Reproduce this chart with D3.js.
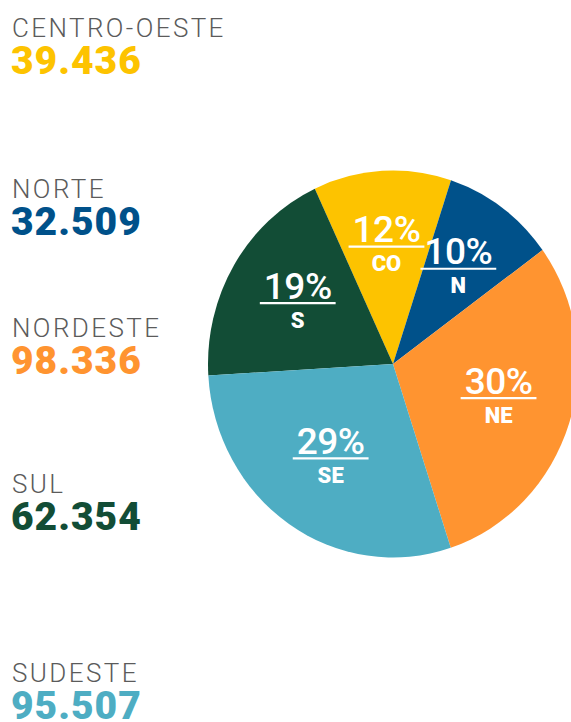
<!DOCTYPE html>
<html>
<head>
<meta charset="utf-8">
<script src="https://cdn.jsdelivr.net/npm/d3@7"></script>
<style>
  body { margin: 0; background: #fff; }
  svg { display: block; }
</style>
</head>
<body>
<div id="chart"></div>
<script>
const width = 571;
const height = 722;

// data, in legend order
const regions = ["CENTRO-OESTE", "NORTE", "NORDESTE", "SUL", "SUDESTE"];
const abbrs = ["CO", "N", "NE", "S", "SE"];
const values = [39436, 32509, 98336, 62354, 95507];
const colors = ["#fdc300", "#00518a", "#ff9430", "#124d36", "#4eadc3"];
// clockwise order of slices in the pie
const pieOrder = ["CO", "N", "NE", "SE", "S"];

// layout
const legendBaselines = [37, 198, 337, 493, 682];
const cx = 393, cy = 364;
const ry = 193.5, rx = 185;
const labelRadius = 116;
const startAngle = -25 * Math.PI / 180;

const locale = d3.formatLocale({ decimal: ",", thousands: ".", grouping: [3], currency: ["R$", ""] });
const fmtNum = locale.format(",d");
const fmtPct = d3.format(".0%");

const data = regions.map((r, i) => ({ region: r, abbr: abbrs[i], value: values[i], color: colors[i] }));
const total = d3.sum(values);

const svg = d3.select("#chart")
    .append("svg")
    .attr("width", width)
    .attr("height", height);

// legend on the left
const legend = svg.append("g");

legend.selectAll("text.name")
    .data(data)
    .enter()
    .append("text")
    .attr("class", "name")
    .attr("x", 12)
    .attr("y", (d, i) => legendBaselines[i])
    .attr("font-family", "Roboto, 'DejaVu Sans', sans-serif")
    .attr("font-weight", 300)
    .attr("font-size", "26px")
    .attr("letter-spacing", "2.4px")
    .attr("fill", "#5b5b5b")
    .text(d => d.region);

legend.selectAll("text.value")
    .data(data)
    .enter()
    .append("text")
    .attr("class", "value")
    .attr("x", 11)
    .attr("y", (d, i) => legendBaselines[i] + 37)
    .attr("font-family", "Roboto, 'DejaVu Sans', sans-serif")
    .attr("font-weight", 900)
    .attr("font-size", "39px")
    .attr("letter-spacing", "1px")
    .attr("fill", d => d.color)
    .text(d => fmtNum(d.value));

// pie
const pieData = d3.pie()
    .sort((a, b) => pieOrder.indexOf(a.abbr) - pieOrder.indexOf(b.abbr))
    .value(d => d.value)
    .startAngle(startAngle)
    .endAngle(startAngle + 2 * Math.PI)(data);

const arc = d3.arc().innerRadius(0).outerRadius(ry);
const labelArc = d3.arc().innerRadius(labelRadius).outerRadius(labelRadius);

const pieG = svg.append("g")
    .attr("transform", `translate(${cx},${cy})`);

pieG.append("g")
    .attr("transform", `scale(${rx / ry},1)`)
    .selectAll("path")
    .data(pieData)
    .enter()
    .append("path")
    .attr("d", arc)
    .attr("fill", d => d.data.color);

const labels = pieG.selectAll("g.label")
    .data(pieData)
    .enter()
    .append("g")
    .attr("class", "label")
    .attr("transform", d => {
        const [x, y] = labelArc.centroid(d);
        return `translate(${x * rx / ry},${y})`;
    });

labels.append("text")
    .attr("class", "pct")
    .attr("text-anchor", "middle")
    .attr("y", -6)
    .attr("font-family", "Roboto, 'DejaVu Sans', sans-serif")
    .attr("font-weight", 500)
    .attr("font-size", "37px")
    .attr("letter-spacing", "-0.5px")
    .attr("fill", "#fff")
    .text(d => fmtPct(d.data.value / total));

labels.each(function() {
    const g = d3.select(this);
    const w = g.select("text.pct").node().getComputedTextLength();
    g.append("line")
        .attr("x1", -w / 2 - 4)
        .attr("x2", w / 2 + 4)
        .attr("y1", -1.5)
        .attr("y2", -1.5)
        .attr("stroke", "#fff")
        .attr("stroke-width", 2.2);
});

labels.append("text")
    .attr("text-anchor", "middle")
    .attr("y", 23)
    .attr("font-family", "Roboto, 'DejaVu Sans', sans-serif")
    .attr("font-weight", 900)
    .attr("font-size", "22px")
    .attr("fill", "#fff")
    .text(d => d.data.abbr);
</script>
</body>
</html>
